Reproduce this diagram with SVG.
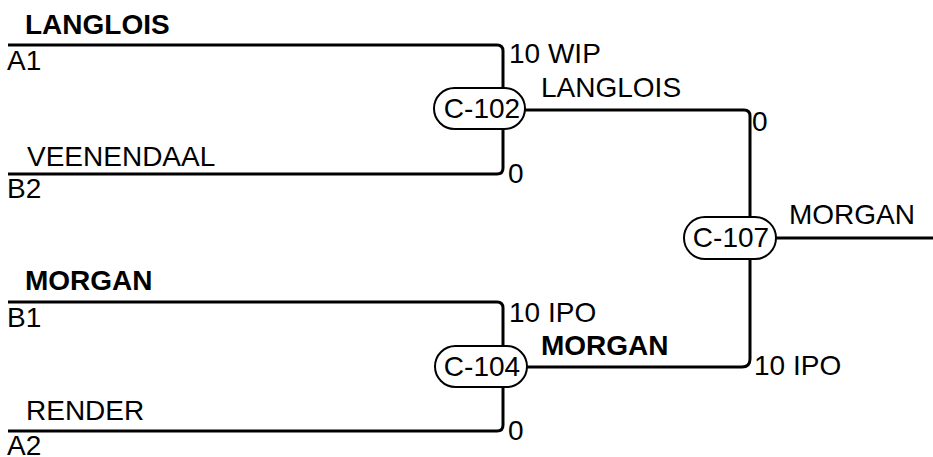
<svg xmlns="http://www.w3.org/2000/svg" width="933" height="457" viewBox="0 0 933 457">
<style>
text{font-family:"Liberation Sans",Arial,sans-serif;font-size:28px;fill:#000}
.b{font-weight:bold}
.c{text-anchor:middle}
.ln{fill:none;stroke:#000;stroke-width:3}
.pill{fill:#fff;stroke:#000;stroke-width:2}
</style>
<rect width="933" height="457" fill="#fff"/>
<g id="connectors">
<path class="ln" d="M8,45 H497 Q503,45 503,51 V90"/>
<path class="ln" d="M8,174 H497 Q503,174 503,168 V126"/>
<path class="ln" d="M8,302 H497 Q503,302 503,308 V348"/>
<path class="ln" d="M8,431 H497 Q503,431 503,425 V386"/>
<path class="ln" d="M524,110 H744 Q750,110 750,116 V219"/>
<path class="ln" d="M526,367 H742 Q750,367 750,359 V256"/>
<path class="ln" d="M775,238 H933"/>
</g>
<g id="labels">
<text class="b" x="25" y="34">LANGLOIS</text>
<text x="7" y="70">A1</text>
<text x="27" y="166">VEENENDAAL</text>
<text x="7" y="198">B2</text>
<text class="b" x="25" y="290">MORGAN</text>
<text x="7" y="327">B1</text>
<text x="26" y="420">RENDER</text>
<text x="7" y="455">A2</text>
<text x="509" y="63">10 WIP</text>
<text x="541" y="97">LANGLOIS</text>
<text x="508" y="183">0</text>
<text x="752" y="131">0</text>
<text x="789" y="224">MORGAN</text>
<text x="509" y="322">10 IPO</text>
<text class="b" x="541" y="355">MORGAN</text>
<text x="754" y="375">10 IPO</text>
<text x="508" y="440">0</text>
</g>
<g id="C-102">
<rect class="pill" x="434" y="88" width="91" height="41" rx="20.5"/>
<text class="c" x="482" y="118">C-102</text>
</g>
<g id="C-104">
<rect class="pill" x="435" y="346" width="92" height="41" rx="20.5"/>
<text class="c" x="482" y="376">C-104</text>
</g>
<g id="C-107">
<rect class="pill" x="684" y="217" width="92" height="42" rx="21"/>
<text class="c" x="731" y="247">C-107</text>
</g>
</svg>
